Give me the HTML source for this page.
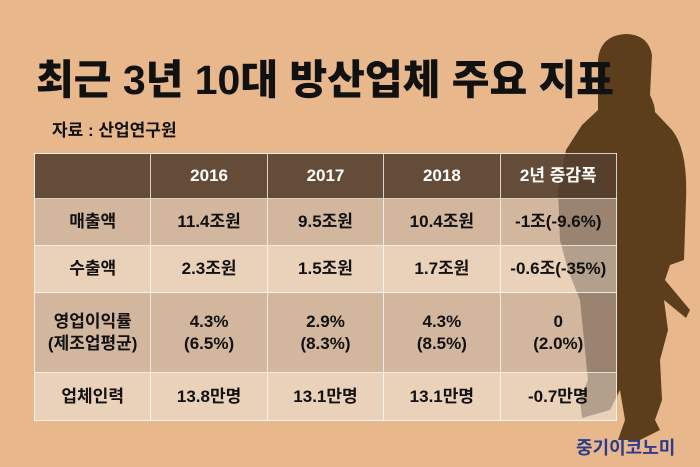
<!DOCTYPE html>
<html><head><meta charset="utf-8"><style>
body{margin:0;width:700px;height:467px;overflow:hidden;background:#e8b88c;font-family:"Liberation Sans","Noto Sans CJK KR",sans-serif;position:relative}
svg{position:absolute;left:0;top:0}
.t{position:absolute;left:36px;top:46px;font-size:41px;font-weight:900;color:#111;letter-spacing:0px}
.s{position:absolute;left:52px;top:116px;font-size:17px;font-weight:700;color:#111}
table{position:absolute;left:34px;top:153px;border-collapse:collapse;width:583px;table-layout:fixed}
td{border:1.5px solid rgba(255,255,255,0.75);text-align:center;font-weight:700;font-size:17px;color:#111;padding:0;line-height:22px}
tr.h td{background:rgba(85,64,48,0.9);color:#fff;height:44px}
tr.a td{background:rgba(195,180,170,0.6)}
tr.b td{background:rgba(235,225,215,0.6)}
.logo{position:absolute;left:576px;top:434px;font-size:18px;font-weight:700;color:#2e3a8c}
</style></head><body>
<svg width="700" height="467" viewBox="0 0 700 467">
<path fill="#5c3d1c" d="M598 60 Q600 36 625 34 Q648 34 652 55 L650 95 Q655 105 655 112 L672 130 Q688 150 686 200 L684 260 L670 265 L665 280 L690 310 L686 318 L664 300 L668 330 L660 360 L662 400 L655 420 L660 430 L640 440 L618 440 L625 420 L620 390 L610 410 L582 418 L580 400 L588 380 L580 300 L568 270 L560 240 L558 190 L566 150 L582 125 L598 110 Z"/>
</svg>
<div class="t">최근 3년 10대 방산업체 주요 지표</div>
<div class="s">자료 : 산업연구원</div>
<table>
<tr class="h"><td></td><td>2016</td><td>2017</td><td>2018</td><td>2년 증감폭</td></tr>
<tr class="a" style="height:47px"><td>매출액</td><td>11.4조원</td><td>9.5조원</td><td>10.4조원</td><td>-1조(-9.6%)</td></tr>
<tr class="b" style="height:47px"><td>수출액</td><td>2.3조원</td><td>1.5조원</td><td>1.7조원</td><td>-0.6조(-35%)</td></tr>
<tr class="a" style="height:80px"><td>영업이익률<br>(제조업평균)</td><td>4.3%<br>(6.5%)</td><td>2.9%<br>(8.3%)</td><td>4.3%<br>(8.5%)</td><td>0<br>(2.0%)</td></tr>
<tr class="b" style="height:48px"><td>업체인력</td><td>13.8만명</td><td>13.1만명</td><td>13.1만명</td><td>-0.7만명</td></tr>
</table>
<div class="logo">중기이코노미</div>
</body></html>
